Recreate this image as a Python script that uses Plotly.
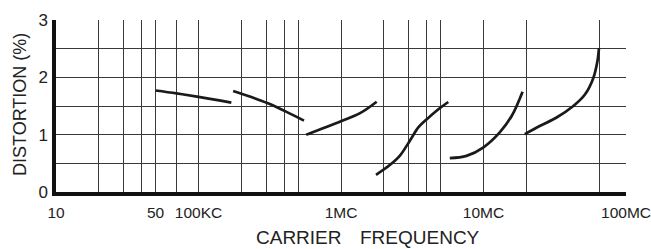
import plotly.graph_objects as go

# ---- data ----
c1_f = [50e3, 70e3, 100e3, 170e3]
c1_d = [1.77, 1.72, 1.66, 1.56]
c2_f = [175e3, 250e3, 320e3, 405e3, 550e3]
c2_d = [1.76, 1.63, 1.53, 1.41, 1.245]
c3_f = [570e3, 710e3, 1.0e6, 1.36e6, 1.78e6]
c3_d = [1.0, 1.09, 1.235, 1.375, 1.575]
c4_f = [1.76e6, 2.2e6, 2.6e6, 3.05e6, 3.5e6, 4.0e6, 4.8e6, 5.66e6]
c4_d = [0.3, 0.47, 0.64, 0.9, 1.13, 1.27, 1.44, 1.57]
c5_f = [5.8e6, 7.6e6, 10e6, 13e6, 15.8e6, 18.8e6]
c5_d = [0.59, 0.63, 0.78, 1.04, 1.33, 1.75]
c6_f = [19.5e6, 25e6, 32.6e6, 42.7e6, 51.5e6, 59e6, 63e6, 64.6e6]
c6_d = [1.01, 1.155, 1.30, 1.5, 1.70, 1.99, 2.28, 2.51]

x_grid = [1e4, 2e4, 3e4, 4e4, 5e4, 7e4, 1e5, 2e5, 3e5, 4e5, 5e5, 1e6,
          2e6, 3e6, 4e6, 5e6, 1e7, 2e7, 6.5e7, 1e8]
x_labels = {1e4: "10", 5e4: "50", 1e5: "100KC", 1e6: "1MC", 1e7: "10MC", 1e8: "100MC"}
y_grid = [0, 0.5, 1, 1.5, 2, 2.5, 3]
y_labels = {0: "0", 1: "1", 2: "2", 3: "3"}

SANS = "Liberation Sans, Arial, sans-serif"

fig = go.Figure()
for f, d in [(c1_f, c1_d), (c2_f, c2_d), (c3_f, c3_d), (c4_f, c4_d), (c5_f, c5_d), (c6_f, c6_d)]:
    fig.add_trace(go.Scatter(x=f, y=d, mode="lines",
                             line=dict(color="#1a1a1a", width=2.7, shape="spline", smoothing=1.0),
                             showlegend=False, hoverinfo="skip", cliponaxis=False))

fig.update_layout(
    width=651, height=249,
    margin=dict(l=56, r=25, t=19.5, b=56.5, autoexpand=False),
    paper_bgcolor="white", plot_bgcolor="white",
    showlegend=False,
    font=dict(family=SANS, color="#222"),
)
fig.update_xaxes(
    type="log", range=[4, 8], automargin=False,
    tickvals=x_grid, ticktext=[x_labels.get(v, "") for v in x_grid],
    showgrid=True, gridcolor="#3a3a3a", gridwidth=1,
    showline=True, linecolor="#111", linewidth=3.5,
    ticks="", tickfont=dict(size=15.5, family=SANS, color="#222"),
    ticklabelstandoff=4, ticklabeloverflow="allow", zeroline=False,
)
fig.update_yaxes(
    range=[0, 3], automargin=False,
    tickvals=y_grid, ticktext=[y_labels.get(v, "") for v in y_grid],
    showgrid=True, gridcolor="#3a3a3a", gridwidth=1,
    showline=True, linecolor="#111", linewidth=3.5,
    ticks="", tickfont=dict(size=17, family=SANS, color="#222"),
    ticklabelstandoff=1, ticklabeloverflow="allow", zeroline=False,
)

fig.add_annotation(text="DISTORTION (%)", textangle=-90, xref="paper", yref="paper",
                   x=(20 - 56) / 570, y=(192.5 - 105) / 173, xanchor="center", yanchor="middle",
                   showarrow=False, font=dict(size=18, family=SANS, color="#222"))
fig.add_annotation(text="CARRIER", xref="paper", yref="paper",
                   x=(299 - 56) / 570, y=(192.5 - 238) / 173, xanchor="center", yanchor="middle",
                   showarrow=False, font=dict(size=19, family=SANS, color="#222"))
fig.add_annotation(text="FREQUENCY", xref="paper", yref="paper",
                   x=(420 - 56) / 570, y=(192.5 - 238) / 173, xanchor="center", yanchor="middle",
                   showarrow=False, font=dict(size=19, family=SANS, color="#222"))

fig.write_html("out.html", config={"displayModeBar": False},
               post_script="document.body.style.margin='0';document.body.style.padding='0';")
